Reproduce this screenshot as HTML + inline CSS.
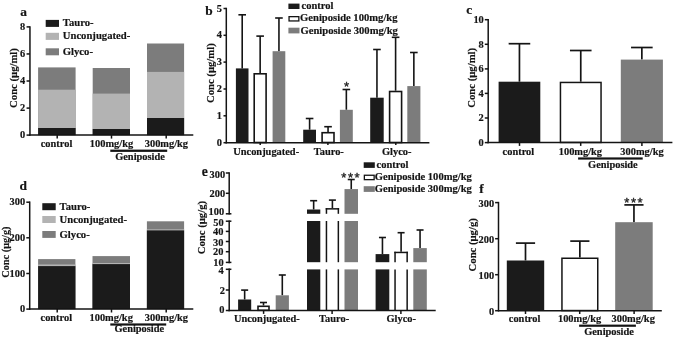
<!DOCTYPE html>
<html lang="en">
<head>
<meta charset="utf-8">
<title>Bile acid concentrations</title>
<style>
html,body{margin:0;padding:0;background:#fff;}
body{width:675px;height:339px;overflow:hidden;}
svg{display:block;}
svg text.st{font-family:"Liberation Sans",Arial,sans-serif;font-weight:normal;fill:#222;stroke:#222;stroke-width:0.35px;letter-spacing:1.5px;}
svg text{font-family:"Liberation Serif","Times New Roman",serif;font-weight:bold;fill:#141414;stroke:#141414;stroke-width:0.18px;}
</style>
</head>
<body>
<svg width="675" height="339" viewBox="0 0 675 339">
<rect x="0" y="0" width="675" height="339" fill="#ffffff"/>
<text x="20.20" y="16.10" font-size="13.4" text-anchor="start">a</text>
<line x1="29.95" y1="26.15" x2="29.95" y2="135.85" stroke="#141414" stroke-width="1.5"/>
<line x1="26.55" y1="26.90" x2="29.95" y2="26.90" stroke="#141414" stroke-width="1.5"/>
<text x="25.10" y="29.80" font-size="10.4" text-anchor="end">8</text>
<line x1="26.55" y1="53.95" x2="29.95" y2="53.95" stroke="#141414" stroke-width="1.5"/>
<text x="25.10" y="56.85" font-size="10.4" text-anchor="end">6</text>
<line x1="26.55" y1="81.00" x2="29.95" y2="81.00" stroke="#141414" stroke-width="1.5"/>
<text x="25.10" y="83.90" font-size="10.4" text-anchor="end">4</text>
<line x1="26.55" y1="108.10" x2="29.95" y2="108.10" stroke="#141414" stroke-width="1.5"/>
<text x="25.10" y="111.00" font-size="10.4" text-anchor="end">2</text>
<line x1="26.55" y1="135.10" x2="29.95" y2="135.10" stroke="#141414" stroke-width="1.5"/>
<text x="25.10" y="138.00" font-size="10.4" text-anchor="end">0</text>
<text transform="translate(17.00 78.00) rotate(-90)" font-size="10.7" text-anchor="middle">Conc (μg/ml)</text>
<rect x="38.10" y="67.40" width="37.50" height="67.70" fill="#7c7c7c"/>
<rect x="38.10" y="89.70" width="37.50" height="45.40" fill="#b3b3b3"/>
<rect x="38.10" y="128.00" width="37.50" height="7.10" fill="#1b1b1b"/>
<rect x="92.70" y="68.00" width="37.30" height="67.10" fill="#7c7c7c"/>
<rect x="92.70" y="93.60" width="37.30" height="41.50" fill="#b3b3b3"/>
<rect x="92.70" y="129.00" width="37.30" height="6.10" fill="#1b1b1b"/>
<rect x="147.00" y="43.50" width="37.10" height="91.60" fill="#7c7c7c"/>
<rect x="147.00" y="71.90" width="37.10" height="63.20" fill="#b3b3b3"/>
<rect x="147.00" y="118.00" width="37.10" height="17.10" fill="#1b1b1b"/>
<line x1="29.00" y1="135.10" x2="193.30" y2="135.10" stroke="#141414" stroke-width="1.5"/>
<line x1="57.20" y1="135.10" x2="57.20" y2="138.60" stroke="#141414" stroke-width="1.5"/>
<line x1="111.50" y1="135.10" x2="111.50" y2="138.60" stroke="#141414" stroke-width="1.5"/>
<line x1="166.20" y1="135.10" x2="166.20" y2="138.60" stroke="#141414" stroke-width="1.5"/>
<text x="56.50" y="147.00" font-size="10.4" text-anchor="middle">control</text>
<text x="111.50" y="147.00" font-size="10.4" text-anchor="middle">100mg/kg</text>
<text x="166.40" y="147.00" font-size="10.4" text-anchor="middle">300mg/kg</text>
<rect x="110.30" y="149.60" width="56.90" height="2.30" fill="#141414"/>
<text x="140.00" y="160.20" font-size="10.4" text-anchor="middle">Geniposide</text>
<rect x="45.70" y="19.90" width="13.30" height="7.00" fill="#1b1b1b"/>
<text x="62.80" y="25.90" font-size="10.65" text-anchor="start">Tauro-</text>
<rect x="45.70" y="32.80" width="13.30" height="7.10" fill="#b3b3b3"/>
<text x="62.80" y="39.30" font-size="10.65" text-anchor="start">Unconjugated-</text>
<rect x="45.70" y="48.30" width="13.30" height="7.00" fill="#7c7c7c"/>
<text x="62.80" y="54.80" font-size="10.65" text-anchor="start">Glyco-</text>
<text x="205.30" y="14.50" font-size="13.4" text-anchor="start">b</text>
<line x1="226.30" y1="7.75" x2="226.30" y2="143.45" stroke="#141414" stroke-width="1.5"/>
<line x1="223.50" y1="8.50" x2="226.30" y2="8.50" stroke="#141414" stroke-width="1.5"/>
<text x="222.00" y="11.50" font-size="10.4" text-anchor="end">5</text>
<line x1="223.50" y1="35.30" x2="226.30" y2="35.30" stroke="#141414" stroke-width="1.5"/>
<text x="222.00" y="38.30" font-size="10.4" text-anchor="end">4</text>
<line x1="223.50" y1="62.10" x2="226.30" y2="62.10" stroke="#141414" stroke-width="1.5"/>
<text x="222.00" y="65.10" font-size="10.4" text-anchor="end">3</text>
<line x1="223.50" y1="89.00" x2="226.30" y2="89.00" stroke="#141414" stroke-width="1.5"/>
<text x="222.00" y="92.00" font-size="10.4" text-anchor="end">2</text>
<line x1="223.50" y1="115.80" x2="226.30" y2="115.80" stroke="#141414" stroke-width="1.5"/>
<text x="222.00" y="118.80" font-size="10.4" text-anchor="end">1</text>
<line x1="223.50" y1="142.70" x2="226.30" y2="142.70" stroke="#141414" stroke-width="1.5"/>
<text x="222.00" y="145.70" font-size="10.4" text-anchor="end">0</text>
<text transform="translate(213.50 73.20) rotate(-90)" font-size="10.7" text-anchor="middle">Conc (μg/ml)</text>
<line x1="242.20" y1="14.80" x2="242.20" y2="68.40" stroke="#141414" stroke-width="1.6"/>
<line x1="238.40" y1="14.80" x2="246.00" y2="14.80" stroke="#141414" stroke-width="1.6"/>
<rect x="235.90" y="68.40" width="12.60" height="74.30" fill="#1b1b1b"/>
<line x1="260.15" y1="36.10" x2="260.15" y2="73.00" stroke="#141414" stroke-width="1.6"/>
<line x1="256.35" y1="36.10" x2="263.95" y2="36.10" stroke="#141414" stroke-width="1.6"/>
<rect x="254.20" y="73.80" width="11.90" height="68.70" fill="#fff" stroke="#141414" stroke-width="1.6"/>
<line x1="278.95" y1="18.00" x2="278.95" y2="51.20" stroke="#141414" stroke-width="1.6"/>
<line x1="275.15" y1="18.00" x2="282.75" y2="18.00" stroke="#141414" stroke-width="1.6"/>
<rect x="272.60" y="51.20" width="12.70" height="91.50" fill="#7c7c7c"/>
<line x1="309.60" y1="118.50" x2="309.60" y2="129.70" stroke="#141414" stroke-width="1.6"/>
<line x1="305.80" y1="118.50" x2="313.40" y2="118.50" stroke="#141414" stroke-width="1.6"/>
<rect x="303.20" y="129.70" width="12.80" height="13.00" fill="#1b1b1b"/>
<line x1="328.05" y1="126.70" x2="328.05" y2="131.90" stroke="#141414" stroke-width="1.6"/>
<line x1="324.25" y1="126.70" x2="331.85" y2="126.70" stroke="#141414" stroke-width="1.6"/>
<rect x="322.10" y="132.70" width="11.90" height="9.80" fill="#fff" stroke="#141414" stroke-width="1.6"/>
<line x1="346.35" y1="89.50" x2="346.35" y2="109.80" stroke="#141414" stroke-width="1.6"/>
<line x1="342.55" y1="89.50" x2="350.15" y2="89.50" stroke="#141414" stroke-width="1.6"/>
<rect x="339.90" y="109.80" width="12.90" height="32.90" fill="#7c7c7c"/>
<line x1="376.95" y1="49.50" x2="376.95" y2="97.70" stroke="#141414" stroke-width="1.6"/>
<line x1="373.15" y1="49.50" x2="380.75" y2="49.50" stroke="#141414" stroke-width="1.6"/>
<rect x="370.20" y="97.70" width="13.50" height="45.00" fill="#1b1b1b"/>
<line x1="395.60" y1="37.30" x2="395.60" y2="90.70" stroke="#141414" stroke-width="1.6"/>
<line x1="391.80" y1="37.30" x2="399.40" y2="37.30" stroke="#141414" stroke-width="1.6"/>
<rect x="389.60" y="91.50" width="12.00" height="51.00" fill="#fff" stroke="#141414" stroke-width="1.6"/>
<line x1="413.85" y1="52.50" x2="413.85" y2="86.10" stroke="#141414" stroke-width="1.6"/>
<line x1="410.05" y1="52.50" x2="417.65" y2="52.50" stroke="#141414" stroke-width="1.6"/>
<rect x="407.30" y="86.10" width="13.10" height="56.60" fill="#7c7c7c"/>
<line x1="225.60" y1="142.70" x2="429.40" y2="142.70" stroke="#141414" stroke-width="1.5"/>
<line x1="260.20" y1="142.70" x2="260.20" y2="145.10" stroke="#141414" stroke-width="1.5"/>
<line x1="327.90" y1="142.70" x2="327.90" y2="145.10" stroke="#141414" stroke-width="1.5"/>
<line x1="395.80" y1="142.70" x2="395.80" y2="145.10" stroke="#141414" stroke-width="1.5"/>
<text x="347.40" y="90.90" font-size="13" text-anchor="middle" class="st">*</text>
<text x="266.20" y="154.50" font-size="10.4" text-anchor="middle">Unconjugated-</text>
<text x="328.80" y="154.50" font-size="10.4" text-anchor="middle">Tauro-</text>
<text x="396.70" y="154.50" font-size="10.4" text-anchor="middle">Glyco-</text>
<rect x="288.40" y="3.60" width="11.10" height="5.40" fill="#1b1b1b"/>
<text x="301.50" y="9.00" font-size="10.5" text-anchor="start">control</text>
<rect x="289.05" y="16.65" width="9.80" height="4.30" fill="#fff" stroke="#141414" stroke-width="1.3"/>
<text x="300.10" y="21.40" font-size="10.6" text-anchor="start">Geniposide 100mg/kg</text>
<rect x="288.40" y="27.70" width="11.10" height="5.70" fill="#7c7c7c"/>
<text x="300.50" y="33.90" font-size="10.6" text-anchor="start">Geniposide 300mg/kg</text>
<text x="466.20" y="13.90" font-size="13.4" text-anchor="start">c</text>
<line x1="488.20" y1="18.95" x2="488.20" y2="143.35" stroke="#141414" stroke-width="1.5"/>
<line x1="484.80" y1="19.70" x2="488.20" y2="19.70" stroke="#141414" stroke-width="1.5"/>
<text x="483.80" y="23.13" font-size="10.4" text-anchor="end">10</text>
<line x1="484.80" y1="44.30" x2="488.20" y2="44.30" stroke="#141414" stroke-width="1.5"/>
<text x="483.80" y="47.73" font-size="10.4" text-anchor="end">8</text>
<line x1="484.80" y1="68.90" x2="488.20" y2="68.90" stroke="#141414" stroke-width="1.5"/>
<text x="483.80" y="72.33" font-size="10.4" text-anchor="end">6</text>
<line x1="484.80" y1="93.40" x2="488.20" y2="93.40" stroke="#141414" stroke-width="1.5"/>
<text x="483.80" y="96.83" font-size="10.4" text-anchor="end">4</text>
<line x1="484.80" y1="118.00" x2="488.20" y2="118.00" stroke="#141414" stroke-width="1.5"/>
<text x="483.80" y="121.43" font-size="10.4" text-anchor="end">2</text>
<line x1="484.80" y1="142.60" x2="488.20" y2="142.60" stroke="#141414" stroke-width="1.5"/>
<text x="483.80" y="146.03" font-size="10.4" text-anchor="end">0</text>
<text transform="translate(475.00 77.80) rotate(-90)" font-size="10.7" text-anchor="middle">Conc (μg/ml)</text>
<line x1="519.45" y1="43.70" x2="519.45" y2="81.70" stroke="#141414" stroke-width="1.7"/>
<line x1="508.65" y1="43.70" x2="530.25" y2="43.70" stroke="#141414" stroke-width="1.7"/>
<rect x="498.60" y="81.70" width="41.70" height="60.90" fill="#1b1b1b"/>
<line x1="580.75" y1="50.50" x2="580.75" y2="81.70" stroke="#141414" stroke-width="1.7"/>
<line x1="569.95" y1="50.50" x2="591.55" y2="50.50" stroke="#141414" stroke-width="1.7"/>
<rect x="560.45" y="82.45" width="40.60" height="60.00" fill="#fff" stroke="#141414" stroke-width="1.5"/>
<line x1="641.85" y1="47.50" x2="641.85" y2="59.60" stroke="#141414" stroke-width="1.7"/>
<line x1="631.05" y1="47.50" x2="652.65" y2="47.50" stroke="#141414" stroke-width="1.7"/>
<rect x="620.80" y="59.60" width="42.10" height="83.00" fill="#7c7c7c"/>
<line x1="487.60" y1="142.60" x2="672.40" y2="142.60" stroke="#141414" stroke-width="1.5"/>
<line x1="519.50" y1="142.60" x2="519.50" y2="145.90" stroke="#141414" stroke-width="1.5"/>
<line x1="580.70" y1="142.60" x2="580.70" y2="145.90" stroke="#141414" stroke-width="1.5"/>
<line x1="641.90" y1="142.60" x2="641.90" y2="145.90" stroke="#141414" stroke-width="1.5"/>
<text x="518.40" y="154.50" font-size="10.4" text-anchor="middle">control</text>
<text x="580.40" y="154.50" font-size="10.4" text-anchor="middle">100mg/kg</text>
<text x="642.00" y="154.50" font-size="10.4" text-anchor="middle">300mg/kg</text>
<rect x="578.10" y="157.40" width="64.60" height="2.20" fill="#141414"/>
<text x="612.90" y="168.20" font-size="10.4" text-anchor="middle">Geniposide</text>
<text x="19.40" y="189.80" font-size="13.4" text-anchor="start">d</text>
<line x1="29.70" y1="201.45" x2="29.70" y2="309.85" stroke="#141414" stroke-width="1.5"/>
<line x1="26.30" y1="202.20" x2="29.70" y2="202.20" stroke="#141414" stroke-width="1.5"/>
<text x="25.20" y="205.20" font-size="10.4" text-anchor="end">300</text>
<line x1="26.30" y1="237.80" x2="29.70" y2="237.80" stroke="#141414" stroke-width="1.5"/>
<text x="25.20" y="240.80" font-size="10.4" text-anchor="end">200</text>
<line x1="26.30" y1="273.50" x2="29.70" y2="273.50" stroke="#141414" stroke-width="1.5"/>
<text x="25.20" y="276.50" font-size="10.4" text-anchor="end">100</text>
<line x1="26.30" y1="309.10" x2="29.70" y2="309.10" stroke="#141414" stroke-width="1.5"/>
<text x="25.20" y="312.10" font-size="10.4" text-anchor="end">0</text>
<text transform="translate(9.20 252.10) rotate(-90)" font-size="10.3" text-anchor="middle">Conc (μg/g)</text>
<rect x="38.10" y="259.10" width="37.30" height="50.00" fill="#7c7c7c"/>
<rect x="38.10" y="264.50" width="37.30" height="44.60" fill="#b3b3b3"/>
<rect x="38.10" y="266.10" width="37.30" height="43.00" fill="#1b1b1b"/>
<rect x="92.50" y="256.10" width="37.50" height="53.00" fill="#7c7c7c"/>
<rect x="92.50" y="263.00" width="37.50" height="46.10" fill="#b3b3b3"/>
<rect x="92.50" y="264.10" width="37.50" height="45.00" fill="#1b1b1b"/>
<rect x="146.90" y="221.30" width="37.20" height="87.80" fill="#7c7c7c"/>
<rect x="146.90" y="229.30" width="37.20" height="79.80" fill="#b3b3b3"/>
<rect x="146.90" y="230.40" width="37.20" height="78.70" fill="#1b1b1b"/>
<line x1="29.00" y1="309.10" x2="193.30" y2="309.10" stroke="#141414" stroke-width="1.5"/>
<line x1="57.20" y1="309.10" x2="57.20" y2="312.50" stroke="#141414" stroke-width="1.5"/>
<line x1="111.50" y1="309.10" x2="111.50" y2="312.50" stroke="#141414" stroke-width="1.5"/>
<line x1="166.20" y1="309.10" x2="166.20" y2="312.50" stroke="#141414" stroke-width="1.5"/>
<text x="56.30" y="320.70" font-size="10.4" text-anchor="middle">control</text>
<text x="111.20" y="320.70" font-size="10.4" text-anchor="middle">100mg/kg</text>
<text x="166.40" y="320.70" font-size="10.4" text-anchor="middle">300mg/kg</text>
<rect x="110.30" y="323.40" width="55.90" height="2.20" fill="#141414"/>
<text x="139.30" y="332.20" font-size="10.4" text-anchor="middle">Geniposide</text>
<rect x="42.30" y="203.20" width="13.40" height="7.00" fill="#1b1b1b"/>
<text x="59.60" y="209.60" font-size="10.65" text-anchor="start">Tauro-</text>
<rect x="42.30" y="216.00" width="13.40" height="7.00" fill="#b3b3b3"/>
<text x="59.60" y="222.70" font-size="10.65" text-anchor="start">Unconjugated-</text>
<rect x="42.30" y="231.00" width="13.40" height="6.90" fill="#7c7c7c"/>
<text x="59.60" y="237.80" font-size="10.65" text-anchor="start">Glyco-</text>
<text x="201.70" y="175.90" font-size="13.6" text-anchor="start">e</text>
<line x1="229.20" y1="172.25" x2="229.20" y2="214.55" stroke="#141414" stroke-width="1.5"/>
<line x1="229.20" y1="220.45" x2="229.20" y2="263.15" stroke="#141414" stroke-width="1.5"/>
<line x1="229.20" y1="268.55" x2="229.20" y2="311.25" stroke="#141414" stroke-width="1.5"/>
<line x1="225.80" y1="173.00" x2="229.20" y2="173.00" stroke="#141414" stroke-width="1.5"/>
<text x="225.20" y="177.60" font-size="10.4" text-anchor="end">300</text>
<line x1="225.80" y1="193.30" x2="229.20" y2="193.30" stroke="#141414" stroke-width="1.5"/>
<text x="225.20" y="197.20" font-size="10.4" text-anchor="end">200</text>
<line x1="225.80" y1="213.80" x2="231.40" y2="213.80" stroke="#141414" stroke-width="1.5"/>
<text x="224.20" y="215.40" font-size="10.4" text-anchor="end">100</text>
<line x1="225.80" y1="221.20" x2="231.40" y2="221.20" stroke="#141414" stroke-width="1.5"/>
<text x="223.60" y="226.20" font-size="10.4" text-anchor="end">50</text>
<line x1="225.80" y1="231.40" x2="229.20" y2="231.40" stroke="#141414" stroke-width="1.5"/>
<text x="223.40" y="235.30" font-size="10.4" text-anchor="end">40</text>
<line x1="225.80" y1="241.50" x2="229.20" y2="241.50" stroke="#141414" stroke-width="1.5"/>
<text x="223.40" y="246.20" font-size="10.4" text-anchor="end">30</text>
<line x1="225.80" y1="251.70" x2="229.20" y2="251.70" stroke="#141414" stroke-width="1.5"/>
<text x="223.40" y="255.40" font-size="10.4" text-anchor="end">20</text>
<line x1="225.80" y1="262.40" x2="231.40" y2="262.40" stroke="#141414" stroke-width="1.5"/>
<text x="223.60" y="265.50" font-size="10.4" text-anchor="end">10</text>
<line x1="225.80" y1="269.30" x2="231.40" y2="269.30" stroke="#141414" stroke-width="1.5"/>
<text x="223.60" y="273.90" font-size="10.4" text-anchor="end">4</text>
<line x1="225.80" y1="290.00" x2="229.20" y2="290.00" stroke="#141414" stroke-width="1.5"/>
<text x="225.00" y="293.70" font-size="10.4" text-anchor="end">2</text>
<line x1="225.80" y1="310.50" x2="229.20" y2="310.50" stroke="#141414" stroke-width="1.5"/>
<text x="224.50" y="312.50" font-size="10.4" text-anchor="end">0</text>
<text transform="translate(205.10 227.60) rotate(-90)" font-size="10.7" text-anchor="middle">Conc (μg/g)</text>
<line x1="244.65" y1="290.10" x2="244.65" y2="299.50" stroke="#141414" stroke-width="1.6"/>
<line x1="241.15" y1="290.10" x2="248.15" y2="290.10" stroke="#141414" stroke-width="1.6"/>
<rect x="238.10" y="299.50" width="13.10" height="11.00" fill="#1b1b1b"/>
<line x1="263.50" y1="302.50" x2="263.50" y2="305.50" stroke="#141414" stroke-width="1.6"/>
<line x1="260.00" y1="302.50" x2="267.00" y2="302.50" stroke="#141414" stroke-width="1.6"/>
<rect x="258.00" y="306.30" width="11.00" height="4.00" fill="#fff" stroke="#141414" stroke-width="1.6"/>
<line x1="282.30" y1="275.00" x2="282.30" y2="295.30" stroke="#141414" stroke-width="1.6"/>
<line x1="278.80" y1="275.00" x2="285.80" y2="275.00" stroke="#141414" stroke-width="1.6"/>
<rect x="275.70" y="295.30" width="13.20" height="15.20" fill="#7c7c7c"/>
<line x1="313.65" y1="200.70" x2="313.65" y2="209.50" stroke="#141414" stroke-width="1.6"/>
<line x1="310.15" y1="200.70" x2="317.15" y2="200.70" stroke="#141414" stroke-width="1.6"/>
<rect x="307.00" y="209.50" width="13.30" height="4.30" fill="#1b1b1b"/>
<rect x="307.00" y="221.00" width="13.30" height="41.20" fill="#1b1b1b"/>
<rect x="307.00" y="269.40" width="13.30" height="41.10" fill="#1b1b1b"/>
<line x1="332.40" y1="200.10" x2="332.40" y2="208.10" stroke="#141414" stroke-width="1.6"/>
<line x1="328.90" y1="200.10" x2="335.90" y2="200.10" stroke="#141414" stroke-width="1.6"/>
<line x1="326.45" y1="208.10" x2="326.45" y2="213.80" stroke="#141414" stroke-width="1.5"/>
<line x1="338.35" y1="208.10" x2="338.35" y2="213.80" stroke="#141414" stroke-width="1.5"/>
<line x1="325.70" y1="208.85" x2="339.10" y2="208.85" stroke="#141414" stroke-width="1.5"/>
<line x1="326.45" y1="221.00" x2="326.45" y2="262.20" stroke="#141414" stroke-width="1.5"/>
<line x1="338.35" y1="221.00" x2="338.35" y2="262.20" stroke="#141414" stroke-width="1.5"/>
<line x1="326.45" y1="269.40" x2="326.45" y2="310.50" stroke="#141414" stroke-width="1.5"/>
<line x1="338.35" y1="269.40" x2="338.35" y2="310.50" stroke="#141414" stroke-width="1.5"/>
<line x1="351.25" y1="179.50" x2="351.25" y2="189.10" stroke="#141414" stroke-width="1.6"/>
<line x1="347.75" y1="179.50" x2="354.75" y2="179.50" stroke="#141414" stroke-width="1.6"/>
<rect x="344.50" y="189.10" width="13.50" height="24.70" fill="#7c7c7c"/>
<rect x="344.50" y="221.00" width="13.50" height="41.20" fill="#7c7c7c"/>
<rect x="344.50" y="269.40" width="13.50" height="41.10" fill="#7c7c7c"/>
<line x1="382.45" y1="237.50" x2="382.45" y2="254.10" stroke="#141414" stroke-width="1.6"/>
<line x1="378.95" y1="237.50" x2="385.95" y2="237.50" stroke="#141414" stroke-width="1.6"/>
<rect x="375.60" y="254.10" width="13.70" height="8.10" fill="#1b1b1b"/>
<rect x="375.60" y="269.40" width="13.70" height="41.10" fill="#1b1b1b"/>
<line x1="401.10" y1="232.70" x2="401.10" y2="251.70" stroke="#141414" stroke-width="1.6"/>
<line x1="397.60" y1="232.70" x2="404.60" y2="232.70" stroke="#141414" stroke-width="1.6"/>
<line x1="395.05" y1="251.70" x2="395.05" y2="262.20" stroke="#141414" stroke-width="1.5"/>
<line x1="407.15" y1="251.70" x2="407.15" y2="262.20" stroke="#141414" stroke-width="1.5"/>
<line x1="394.30" y1="252.45" x2="407.90" y2="252.45" stroke="#141414" stroke-width="1.5"/>
<line x1="395.05" y1="269.40" x2="395.05" y2="310.50" stroke="#141414" stroke-width="1.5"/>
<line x1="407.15" y1="269.40" x2="407.15" y2="310.50" stroke="#141414" stroke-width="1.5"/>
<line x1="420.05" y1="230.00" x2="420.05" y2="248.10" stroke="#141414" stroke-width="1.6"/>
<line x1="416.55" y1="230.00" x2="423.55" y2="230.00" stroke="#141414" stroke-width="1.6"/>
<rect x="413.30" y="248.10" width="13.50" height="14.10" fill="#7c7c7c"/>
<rect x="413.30" y="269.40" width="13.50" height="41.10" fill="#7c7c7c"/>
<line x1="228.60" y1="310.50" x2="435.70" y2="310.50" stroke="#141414" stroke-width="1.5"/>
<line x1="263.60" y1="310.50" x2="263.60" y2="313.90" stroke="#141414" stroke-width="1.5"/>
<line x1="332.10" y1="310.50" x2="332.10" y2="313.90" stroke="#141414" stroke-width="1.5"/>
<line x1="400.90" y1="310.50" x2="400.90" y2="313.90" stroke="#141414" stroke-width="1.5"/>
<text x="351.20" y="182.30" font-size="13" text-anchor="middle" class="st">***</text>
<text x="266.80" y="321.50" font-size="10.4" text-anchor="middle">Unconjugated-</text>
<text x="334.10" y="321.50" font-size="10.4" text-anchor="middle">Tauro-</text>
<text x="401.20" y="321.50" font-size="10.4" text-anchor="middle">Glyco-</text>
<rect x="363.70" y="162.30" width="11.10" height="5.60" fill="#1b1b1b"/>
<text x="376.60" y="167.50" font-size="10.5" text-anchor="start">control</text>
<rect x="364.35" y="175.25" width="9.80" height="4.40" fill="#fff" stroke="#141414" stroke-width="1.3"/>
<text x="374.80" y="180.30" font-size="10.56" text-anchor="start">Geniposide 100mg/kg</text>
<rect x="363.70" y="186.20" width="11.10" height="5.70" fill="#7c7c7c"/>
<text x="374.80" y="192.20" font-size="10.56" text-anchor="start">Geniposide 300mg/kg</text>
<text x="479.20" y="192.60" font-size="13.4" text-anchor="start">f</text>
<line x1="498.50" y1="201.85" x2="498.50" y2="311.45" stroke="#141414" stroke-width="1.5"/>
<line x1="495.10" y1="202.60" x2="498.50" y2="202.60" stroke="#141414" stroke-width="1.5"/>
<text x="494.10" y="206.60" font-size="10.4" text-anchor="end">300</text>
<line x1="495.10" y1="238.70" x2="498.50" y2="238.70" stroke="#141414" stroke-width="1.5"/>
<text x="494.10" y="242.70" font-size="10.4" text-anchor="end">200</text>
<line x1="495.10" y1="274.70" x2="498.50" y2="274.70" stroke="#141414" stroke-width="1.5"/>
<text x="494.10" y="278.70" font-size="10.4" text-anchor="end">100</text>
<line x1="495.10" y1="310.70" x2="498.50" y2="310.70" stroke="#141414" stroke-width="1.5"/>
<text x="494.10" y="314.70" font-size="10.4" text-anchor="end">0</text>
<text transform="translate(475.80 244.80) rotate(-90)" font-size="10.7" text-anchor="middle">Conc (μg/g)</text>
<line x1="525.50" y1="243.10" x2="525.50" y2="260.50" stroke="#141414" stroke-width="1.7"/>
<line x1="515.90" y1="243.10" x2="535.10" y2="243.10" stroke="#141414" stroke-width="1.7"/>
<rect x="506.80" y="260.50" width="37.40" height="50.20" fill="#1b1b1b"/>
<line x1="579.85" y1="241.10" x2="579.85" y2="257.50" stroke="#141414" stroke-width="1.7"/>
<line x1="570.25" y1="241.10" x2="589.45" y2="241.10" stroke="#141414" stroke-width="1.7"/>
<rect x="561.95" y="258.25" width="35.80" height="52.30" fill="#fff" stroke="#141414" stroke-width="1.5"/>
<line x1="633.95" y1="204.90" x2="633.95" y2="222.20" stroke="#141414" stroke-width="1.7"/>
<line x1="624.35" y1="204.90" x2="643.55" y2="204.90" stroke="#141414" stroke-width="1.7"/>
<rect x="615.20" y="222.20" width="37.50" height="88.50" fill="#7c7c7c"/>
<line x1="498.10" y1="310.70" x2="661.80" y2="310.70" stroke="#141414" stroke-width="1.5"/>
<line x1="525.50" y1="310.70" x2="525.50" y2="314.00" stroke="#141414" stroke-width="1.5"/>
<line x1="579.70" y1="310.70" x2="579.70" y2="314.00" stroke="#141414" stroke-width="1.5"/>
<line x1="634.10" y1="310.70" x2="634.10" y2="314.00" stroke="#141414" stroke-width="1.5"/>
<text x="634.20" y="207.40" font-size="13" text-anchor="middle" class="st">***</text>
<text x="524.60" y="322.00" font-size="10.4" text-anchor="middle">control</text>
<text x="579.60" y="322.00" font-size="10.4" text-anchor="middle">100mg/kg</text>
<text x="633.20" y="322.00" font-size="10.4" text-anchor="middle">300mg/kg</text>
<rect x="579.10" y="324.60" width="56.80" height="2.20" fill="#141414"/>
<text x="609.00" y="334.80" font-size="10.4" text-anchor="middle">Geniposide</text>
</svg>
</body>
</html>
